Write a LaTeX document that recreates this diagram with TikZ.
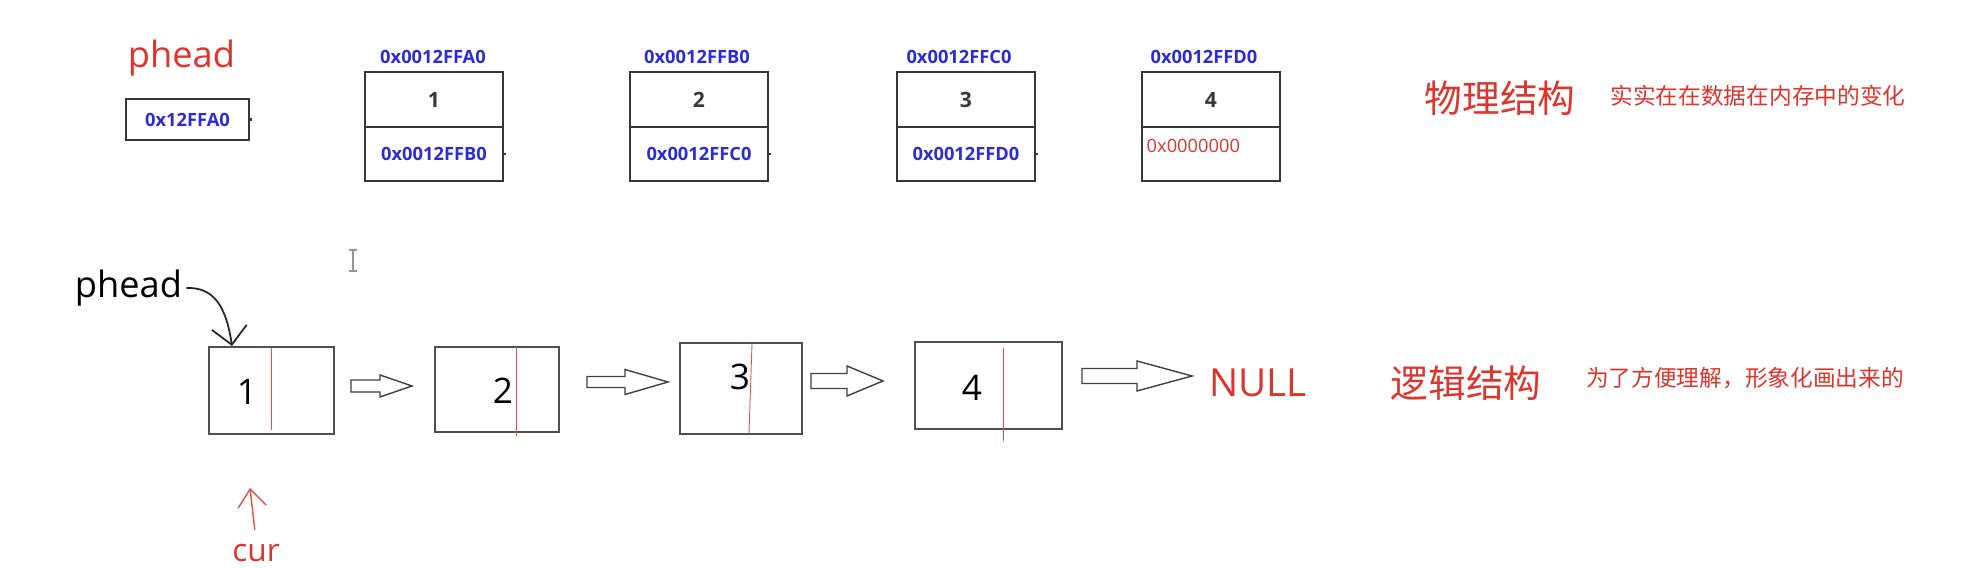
\documentclass[tikz,border=0pt]{standalone}
\usepackage{fontspec}
\setmainfont{Open Sans}
\newfontfamily\cjk{Noto Sans CJK SC}
\usetikzlibrary{arrows.meta,positioning}

\definecolor{inkred}{RGB}{221,52,45}
\definecolor{inkblue}{RGB}{44,44,212}
\definecolor{boxline}{RGB}{55,55,55}
\definecolor{thinline}{RGB}{80,80,80}
\definecolor{beam}{RGB}{150,150,150}

\def\blockarrow(#1,#2)(#3:#4:#5:#6){\draw[hollow] (#1,#2-#5) -- (#3,#2-#5) -- (#3,#2-#6) -- (#4,#2) -- (#3,#2+#6) -- (#3,#2+#5) -- (#1,#2+#5) -- cycle;}

\tikzset{
	memcell/.style={draw=boxline, line width=0.75pt, outer sep=0pt, inner sep=0pt, minimum width=1.38cm},
	linkbox/.style={draw=thinline, line width=0.45pt, outer sep=0pt, inner sep=0pt},
	addr/.style={text=inkblue, font=\fontsize{5.2pt}{6pt}\selectfont\bfseries},
	nulladdr/.style={text=inkred, inner sep=0pt, font=\fontsize{5.2pt}{6pt}\selectfont},
	cellnum/.style={text=black!78, font=\fontsize{6pt}{7pt}\selectfont\bfseries},
	bignum/.style={inner sep=1pt, font=\fontsize{10pt}{12pt}\selectfont},
	inktext/.style={inner sep=1pt, font=\fontsize{10.3pt}{12pt}\selectfont},
	redtext/.style={inner sep=1pt, text=inkred, font=\fontsize{10.3pt}{12pt}\selectfont},
	curtext/.style={inner sep=1pt, text=inkred, font=\fontsize{9pt}{11pt}\selectfont},
	nulltext/.style={inner sep=1pt, text=inkred, font=\fontsize{11pt}{13pt}\selectfont},
	redbig/.style={inner sep=0pt, text=inkred, font=\fontsize{10.7pt}{13pt}\selectfont\cjk},
	redsmall/.style={inner sep=0pt, text=inkred, font=\fontsize{6.45pt}{8pt}\selectfont\cjk},
	hollow/.style={draw=black!75, line width=0.4pt},
	splitline/.style={draw=inkred!85, line width=0.25pt},
	pointer/.style={draw=black!85, line width=0.5pt, -{Straight Barb[length=5pt,width=10pt]}},
	curpointer/.style={draw=inkred!85, line width=0.4pt, shorten <=3pt, -{Straight Barb[length=5pt,width=8pt]}},
	tick/.style={draw=boxline, line width=0.6pt}
}

\begin{document}
\begin{tikzpicture}[x=0.01cm, y=-0.01cm]
	%%%%% START %%%%%
	\fill[white] (0,0) rectangle (1963,568);
	\useasboundingbox (0,0) rectangle (1963,568);
	
	% memory: head pointer
	\node[redtext] (ph1) at (181.5,58.5) {phead};
	\node[memcell, addr, minimum width=1.23cm, minimum height=0.41cm] (hd) at (187.5,119.5) {0x12FFA0};
	\draw[tick] (hd.east) -- ++(3,0);
	
	% memory: cells
	\node[addr] (a1) at (433,57) {0x0012FFA0};
	\node[memcell, cellnum, minimum height=0.55cm] (v1) at (434,99.5) {1};
	\node[memcell, addr, minimum height=0.54cm, below=0pt of v1] (n1) {0x0012FFB0};
	\draw[tick] (n1.east) -- ++(3,0);
	
	\node[addr] (a2) at (697,57) {0x0012FFB0};
	\node[memcell, cellnum, minimum height=0.55cm] (v2) at (699,99.5) {2};
	\node[memcell, addr, minimum height=0.54cm, below=0pt of v2] (n2) {0x0012FFC0};
	\draw[tick] (n2.east) -- ++(3,0);
	
	\node[addr] (a3) at (959,57) {0x0012FFC0};
	\node[memcell, cellnum, minimum height=0.55cm] (v3) at (966,99.5) {3};
	\node[memcell, addr, minimum height=0.54cm, below=0pt of v3] (n3) {0x0012FFD0};
	\draw[tick] (n3.east) -- ++(3,0);
	
	\node[addr] (a4) at (1204,57) {0x0012FFD0};
	\node[memcell, cellnum, minimum height=0.55cm] (v4) at (1211,99.5) {4};
	\node[memcell, minimum height=0.54cm, below=0pt of v4] (n4) {};
	\node[nulladdr, anchor=west] (z4) at (1146,146) {0x0000000};
	
	\node[redbig] (phys) at (1500,98) {物理结构};
	\node[redsmall] (physnote) at (1758,96) {实实在在数据在内存中的变化};
	
	% list: boxes
	\node[inktext] (ph2) at (128.5,288) {phead};
	
	\node[linkbox, minimum width=1.25cm, minimum height=0.87cm] (l1) at (271.5,390.5) {};
	\node[bignum] (d1) at (247,392) {1};
	\draw[splitline] (271,348) -- (271,430);
	
	\node[linkbox, minimum width=1.24cm, minimum height=0.85cm] (l2) at (497,389.5) {};
	\node[bignum] (d2) at (503,391) {2};
	\draw[splitline] (516,347) -- (516,436);
	
	\node[linkbox, minimum width=1.22cm, minimum height=0.91cm] (l3) at (741,388.5) {};
	\node[bignum] (d3) at (740,377) {3};
	\draw[splitline] (752,344) -- (749,433);
	
	\node[linkbox, minimum width=1.47cm, minimum height=0.87cm] (l4) at (988.5,385.5) {};
	\node[bignum] (d4) at (972,388) {4};
	\draw[splitline] (1003,348) -- (1003,441);
	
	% list: links
	\blockarrow(351,386)(380:412:6:11)
	\blockarrow(587,382)(625:668:5.5:12.5)
	\blockarrow(811,381)(847:883:7.5:15)
	\blockarrow(1082,376)(1137:1192:7.5:15)
	
	\node[nulltext] (null) at (1258,382.5) {NULL};
	\node[redbig] (logic) at (1466,383) {逻辑结构};
	\node[redsmall] (logicnote) at (1745,378) {为了方便理解，形象化画出来的};
	
	% pointers
	\coordinate (h1) at (232,346);
	\draw[pointer] (ph2.east) .. controls (213,287) and (226,305) .. (h1);
	
	\node[curtext] (cur) at (256,553.5) {cur};
	\coordinate (c1) at (250,488);
	\draw[curpointer] (cur.north) -- (c1);
	
	% text cursor
	\draw[beam, line width=0.5pt] (349,250) -- (357,250) (353,250) -- (353,271) (349,271) -- (357,271);
	%%%%% END %%%%%
\end{tikzpicture}
\end{document}
